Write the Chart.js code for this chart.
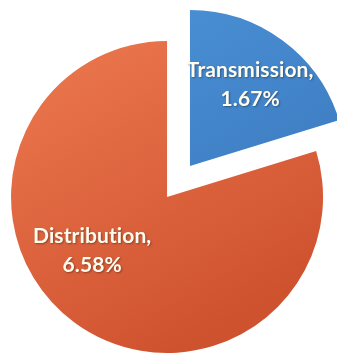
<!DOCTYPE html>
<html>
<head>
<meta charset="utf-8">
<script src="https://cdn.jsdelivr.net/npm/chart.js@4/dist/chart.umd.min.js"></script>
<style>
  html, body { margin: 0; padding: 0; background: #ffffff; }
  #wrap { width: 337px; height: 356px; position: relative; }
</style>
</head>
<body>
<div id="wrap"><canvas id="c"></canvas></div>
<script>
// Loss categories and their shares (percent)
const categories = ['Transmission', 'Distribution'];
const lossShares = [1.67, 6.58];

// Slice styling
const sliceTop = ['#4c93d7', '#ee7a50'];
const sliceBottom = ['#3a77bd', '#cf522f'];
const explodeDistance = 19.3;          // px each slice is pulled out from the centre
const labelPlacement = [               // [fraction of radius, angle shift in degrees]
  [0.65, 0],
  [0.59, 18]
];

function sliceFill(context) {
  const chart = context.chart;
  const area = chart.chartArea;
  if (!area) return sliceTop[context.dataIndex];
  const g = chart.ctx.createLinearGradient(area.left, area.top, area.right * 0.6, area.bottom);
  g.addColorStop(0, sliceTop[context.dataIndex]);
  g.addColorStop(1, sliceBottom[context.dataIndex]);
  return g;
}

// Pulls every slice outward along its own bisector
const explodePlugin = {
  id: 'explode',
  afterDatasetsUpdate(chart) {
    const meta = chart.getDatasetMeta(0);
    meta.data.forEach(arc => {
      const half = (arc.startAngle + arc.endAngle) / 2;
      arc.x += Math.cos(half) * explodeDistance;
      arc.y += Math.sin(half) * explodeDistance;
    });
  }
};

// Two-line "Name," / "value%" labels inside each slice
const sliceLabels = {
  id: 'sliceLabels',
  afterDatasetsDraw(chart) {
    const ctx = chart.ctx;
    const meta = chart.getDatasetMeta(0);
    ctx.save();
    ctx.font = 'bold 21px Lato, "Open Sans", sans-serif';
    if ('letterSpacing' in ctx) ctx.letterSpacing = '0.1px';   // keeps "ti" from joining
    ctx.textAlign = 'center';
    ctx.textBaseline = 'middle';
    ctx.fillStyle = '#fffdf0';
    ctx.shadowColor = 'rgba(0,0,0,0.35)';
    ctx.shadowBlur = 2;
    ctx.shadowOffsetX = 1;
    ctx.shadowOffsetY = 1;
    meta.data.forEach((arc, i) => {
      const [frac, shift] = labelPlacement[i];
      const ang = (arc.startAngle + arc.endAngle) / 2 + shift * Math.PI / 180;
      const r = arc.outerRadius * frac;
      const x = arc.x + Math.cos(ang) * r;
      const y = arc.y + Math.sin(ang) * r;
      ctx.fillText(categories[i] + ',', x, y - 14);
      ctx.fillText(lossShares[i].toFixed(2) + '%', x, y + 15);
    });
    ctx.restore();
  }
};

new Chart(document.getElementById('c'), {
  type: 'pie',
  data: {
    labels: categories,
    datasets: [{
      data: lossShares,
      backgroundColor: sliceFill,
      borderWidth: 0
    }]
  },
  options: {
    responsive: true,
    maintainAspectRatio: false,
    animation: false,
    layout: { padding: { left: 22.5, right: 2.5, top: 25.5, bottom: 18.5 } },
    plugins: {
      legend: { display: false },
      tooltip: { enabled: false }
    }
  },
  plugins: [explodePlugin, sliceLabels]
});
</script>
</body>
</html>
